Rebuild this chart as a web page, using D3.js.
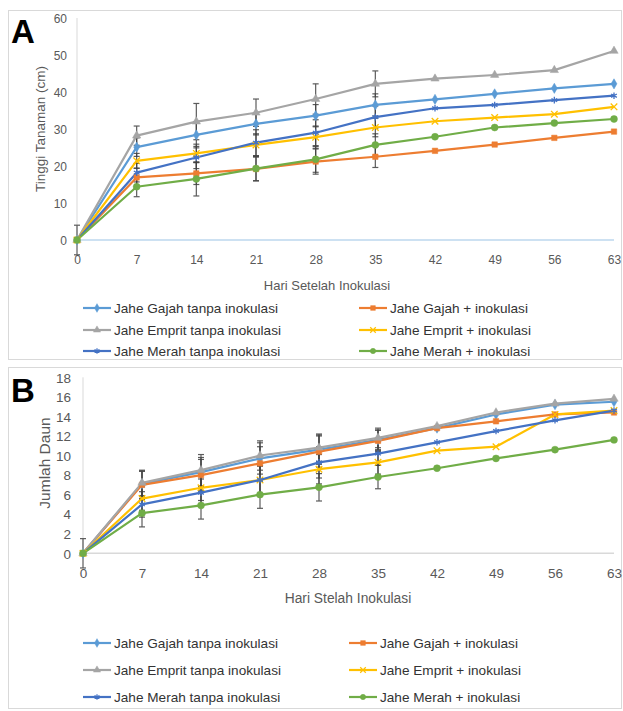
<!DOCTYPE html>
<html><head><meta charset="utf-8">
<script src="https://cdn.jsdelivr.net/npm/d3@7"></script>
<style>body{margin:0;background:#fff}svg{display:block}text{font-family:"Liberation Sans",Arial,sans-serif}</style>
</head><body><svg id="c" width="623" height="711"></svg>
<script>
// ---------- data ----------
const days = [0, 7, 14, 21, 28, 35, 42, 49, 56, 63];
const seriesNames = [
  "Jahe Gajah tanpa inokulasi", "Jahe Gajah + inokulasi",
  "Jahe Emprit tanpa inokulasi", "Jahe Emprit + inokulasi",
  "Jahe Merah tanpa inokulasi", "Jahe Merah + inokulasi"
];
// Panel A: Tinggi Tanaman (cm)
const heightGajahTanpa  = [0, 25.1, 28.4, 31.4, 33.6, 36.5, 38.0, 39.5, 41.0, 42.2];
const heightGajahInok   = [0, 16.9, 18.0, 19.2, 21.2, 22.5, 24.1, 25.8, 27.6, 29.3];
const heightEmpritTanpa = [0, 28.2, 32.0, 34.4, 38.1, 42.2, 43.6, 44.6, 45.9, 51.1];
const heightEmpritInok  = [0, 21.4, 23.4, 25.7, 27.8, 30.4, 32.1, 33.1, 34.0, 36.0];
const heightMerahTanpa  = [0, 18.2, 22.3, 26.3, 29.0, 33.2, 35.6, 36.5, 37.8, 39.0];
const heightMerahInok   = [0, 14.4, 16.5, 19.3, 21.8, 25.7, 27.9, 30.4, 31.6, 32.7];
// Panel A error bars (days 0-35)
const heightErrGajahTanpa  = [0, 2.5, 3.5, 3.0, 3.0, 3.0];
const heightErrGajahInok   = [0, 2.5, 3.0, 3.2, 3.4, 2.9];
const heightErrEmpritTanpa = [4, 2.6, 4.9, 3.7, 4.1, 3.5];
const heightErrEmpritInok  = [0, 2.0, 2.5, 3.0, 3.0, 2.5];
const heightErrMerahTanpa  = [0, 2.5, 3.0, 3.5, 3.5, 3.0];
const heightErrMerahInok   = [0, 2.7, 4.6, 3.3, 3.5, 3.0];
// Panel B: Jumlah Daun
const leavesGajahTanpa  = [0, 7.1, 8.3, 9.7, 10.6, 11.6, 12.8, 14.2, 15.2, 15.5];
const leavesGajahInok   = [0, 7.0, 8.0, 9.2, 10.4, 11.5, 12.8, 13.5, 14.2, 14.4];
const leavesEmpritTanpa = [0, 7.2, 8.5, 10.0, 10.8, 11.8, 13.0, 14.4, 15.3, 15.8];
const leavesEmpritInok  = [0, 5.6, 6.7, 7.5, 8.6, 9.3, 10.5, 10.9, 14.2, 14.6];
const leavesMerahTanpa  = [0, 5.0, 6.2, 7.5, 9.3, 10.2, 11.35, 12.5, 13.6, 14.6];
const leavesMerahInok   = [0, 4.1, 4.9, 6.0, 6.75, 7.8, 8.7, 9.7, 10.6, 11.6];
const leavesErrGajahTanpa  = [0, 1.3, 1.5, 1.6, 1.5, 1.0];
const leavesErrGajahInok   = [0, 1.4, 1.6, 1.7, 1.6, 1.1];
const leavesErrEmpritTanpa = [1.5, 1.3, 1.6, 1.5, 1.4, 1.0];
const leavesErrEmpritInok  = [0, 1.2, 1.3, 1.4, 1.5, 1.2];
const leavesErrMerahTanpa  = [0, 1.3, 1.4, 1.5, 1.6, 1.2];
const leavesErrMerahInok   = [0, 1.4, 1.4, 1.4, 1.4, 1.2];
const heightTicks = [0, 10, 20, 30, 40, 50, 60];
const leavesTicks = [0, 2, 4, 6, 8, 10, 12, 14, 16, 18];

// ---------- styles ----------
const colors = ["#5b9bd5", "#ed7d31", "#a5a5a5", "#ffc000", "#4472c4", "#70ad47"];
const symbols = [d3.symbolDiamond, d3.symbolSquare, d3.symbolTriangle,
  d3.symbolX || d3.symbolCross, d3.symbolAsterisk || d3.symbolCross, d3.symbolCircle];
const strokeSym = [false, false, false, true, true, false];
const txt = "#595959";

const svg = d3.select("#c");

function panel(cfg) {
  const g = svg.append("g");
  g.append("rect").attr("x", 8.5).attr("y", cfg.box[0] + .5).attr("width", 613)
    .attr("height", cfg.box[1] - cfg.box[0]).attr("fill", "none").attr("stroke", "#d9d9d9");
  const x = d3.scaleLinear().domain([0, 63]).range(cfg.xr);
  const y = d3.scaleLinear().domain([0, cfg.ymax]).range(cfg.yr);
  g.append("line").attr("x1", x(0)).attr("x2", x(0)).attr("y1", y(cfg.ymax)).attr("y2", y(0))
    .attr("stroke", "#d9d9d9").attr("stroke-width", 1);
  g.append("line").attr("x1", x(0)).attr("x2", x(63)).attr("y1", y(0)).attr("y2", y(0))
    .attr("stroke", cfg.xAxisColor).attr("stroke-width", 1.5);
  const ya = d3.axisLeft(y).tickValues(cfg.yticks).tickSize(0).tickPadding(0);
  const yg = g.append("g").attr("transform", `translate(${cfg.ylabX},0)`).call(ya);
  yg.select(".domain").remove();
  yg.selectAll("text").attr("fill", txt).attr("font-size", cfg.tickFs).attr("dy", "0.35em")
    .attr("font-family", '"Liberation Sans",Arial,sans-serif');
  const xa = d3.axisBottom(x).tickValues(days).tickSize(0).tickPadding(0);
  const xg = g.append("g").attr("transform", `translate(0,${cfg.xlabY})`).call(xa);
  xg.select(".domain").remove();
  xg.selectAll("text").attr("fill", txt).attr("font-size", cfg.tickFs).attr("dy", "0.35em")
    .attr("font-family", '"Liberation Sans",Arial,sans-serif');
  g.append("text").attr("x", cfg.xTitle[0]).attr("y", cfg.xTitle[1]).attr("dy", "0.35em")
    .attr("text-anchor", "middle").attr("fill", txt).attr("font-size", cfg.xTitleFs).text(cfg.xTitleText);
  g.append("text").attr("transform", `translate(${cfg.yTitle[0]},${cfg.yTitle[1]}) rotate(-90)`)
    .attr("dy", "0.35em").attr("text-anchor", "middle").attr("fill", txt)
    .attr("font-size", cfg.yTitleFs).text(cfg.yTitleText);
  g.append("text").attr("x", 11).attr("y", cfg.letterY).attr("font-family", '"Liberation Serif","Times New Roman",serif')
    .attr("font-weight", "bold").attr("font-size", 33).attr("fill", "#000").text(cfg.letter);
  cfg.errs.forEach((err, si) => {
    err.forEach((e, i) => {
      if (!e) return;
      const v = cfg.vals[si][i], cx = x(days[i]);
      const eg = g.append("g").attr("stroke", "#404040").attr("stroke-width", 1.2).attr("opacity", 0.85);
      eg.append("line").attr("x1", cx).attr("x2", cx).attr("y1", y(v - e)).attr("y2", y(v + e));
      [v - e, v + e].forEach(t => eg.append("line").attr("x1", cx - 3).attr("x2", cx + 3).attr("y1", y(t)).attr("y2", y(t)));
    });
  });
  const line = d3.line().x((d, i) => x(days[i])).y(d => y(d));
  cfg.vals.forEach((vals, si) => {
    g.append("path").datum(vals).attr("d", line).attr("fill", "none")
      .attr("stroke", colors[si]).attr("stroke-width", 2.2).attr("stroke-linejoin", "round");
  });
  cfg.vals.forEach((vals, si) => {
    const sym = d3.symbol().type(symbols[si]).size(si === 5 ? 38 : 30);
    g.selectAll(null).data(vals).enter().append("path")
      .attr("transform", (d, i) => `translate(${x(days[i])},${y(d)})`)
      .attr("d", sym)
      .attr("fill", strokeSym[si] ? "none" : colors[si])
      .attr("stroke", colors[si]).attr("stroke-width", strokeSym[si] ? 1.3 : 0.5);
  });
  seriesNames.forEach((name, si) => {
    const col = si % 2, row = Math.floor(si / 2);
    const lx = cfg.legX[col], ly = cfg.legY[row];
    g.append("line").attr("x1", lx).attr("x2", lx + 28).attr("y1", ly).attr("y2", ly)
      .attr("stroke", colors[si]).attr("stroke-width", 2.2);
    g.append("path").attr("transform", `translate(${lx + 14},${ly})`)
      .attr("d", d3.symbol().type(symbols[si]).size(22))
      .attr("fill", strokeSym[si] ? "none" : colors[si]).attr("stroke", colors[si])
      .attr("stroke-width", strokeSym[si] ? 1.2 : 0.5);
    g.append("text").attr("x", lx + 31).attr("y", ly).attr("dy", "0.35em")
      .attr("fill", "#333").attr("font-size", cfg.legFs).text(name);
  });
}

panel({
  box: [10, 359], xr: [77, 614], yr: [240, 18], ymax: 60, yticks: heightTicks,
  xAxisColor: "#bdd7ee", ylabX: 67, xlabY: 260, tickFs: 12,
  xTitle: [327, 285], xTitleFs: 13, xTitleText: "Hari Setelah Inokulasi",
  yTitle: [40, 129], yTitleFs: 13.5, yTitleText: "Tinggi Tanaman (cm)",
  letter: "A", letterY: 43,
  vals: [heightGajahTanpa, heightGajahInok, heightEmpritTanpa, heightEmpritInok, heightMerahTanpa, heightMerahInok],
  errs: [heightErrGajahTanpa, heightErrGajahInok, heightErrEmpritTanpa, heightErrEmpritInok, heightErrMerahTanpa, heightErrMerahInok],
  legX: [83, 359], legY: [308, 330, 351], legFs: 13.6
});
panel({
  box: [367, 708], xr: [83, 614], yr: [553.3, 377.3], ymax: 18, yticks: leavesTicks,
  xAxisColor: "#d9d9d9", ylabX: 71, xlabY: 573, tickFs: 13.5,
  xTitle: [348, 598], xTitleFs: 13.8, xTitleText: "Hari Stelah Inokulasi",
  yTitle: [45, 463], yTitleFs: 15.5, yTitleText: "Jumlah Daun",
  letter: "B", letterY: 402,
  vals: [leavesGajahTanpa, leavesGajahInok, leavesEmpritTanpa, leavesEmpritInok, leavesMerahTanpa, leavesMerahInok],
  errs: [leavesErrGajahTanpa, leavesErrGajahInok, leavesErrEmpritTanpa, leavesErrEmpritInok, leavesErrMerahTanpa, leavesErrMerahInok],
  legX: [83, 349], legY: [643, 670, 697], legFs: 13.6
});
</script></body></html>
